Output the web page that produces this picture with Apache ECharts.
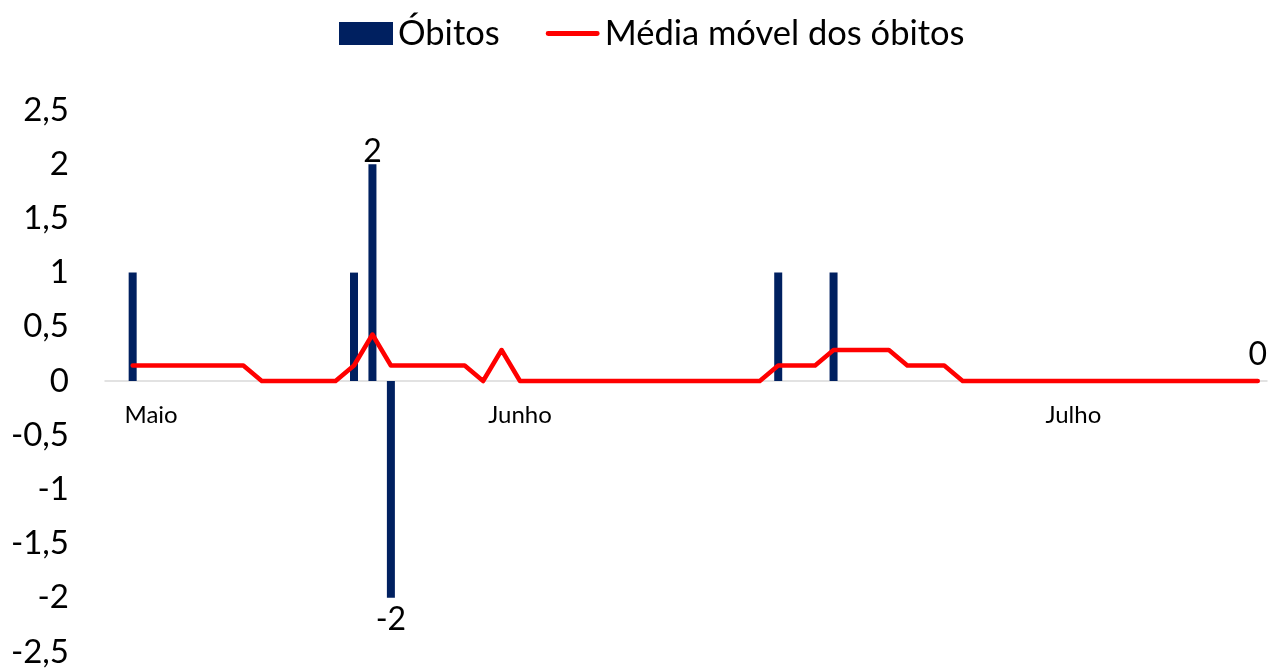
<!DOCTYPE html>
<html>
<head>
<meta charset="utf-8">
<script src="https://cdn.jsdelivr.net/npm/echarts@6/dist/echarts.min.js"></script>
<style>
html,body{margin:0;padding:0;background:#fff;}
#chart{width:1271px;height:668px;}
</style>
</head>
<body>
<div id="chart"></div>
<script>
const days = [
"10/05","11/05","12/05","13/05","14/05","15/05","16/05","17/05","18/05","19/05","20/05",
"21/05","22/05","23/05","24/05","25/05","26/05","27/05","28/05","29/05","30/05","31/05",
"01/06","02/06","03/06","04/06","05/06","06/06","07/06","08/06","09/06","10/06",
"11/06","12/06","13/06","14/06","15/06","16/06","17/06","18/06","19/06","20/06",
"21/06","22/06","23/06","24/06","25/06","26/06","27/06","28/06","29/06","30/06",
"01/07","02/07","03/07","04/07","05/07","06/07","07/07","08/07","09/07","10/07","11/07"
];
const monthLabels = {"12/05":"Maio","01/06":"Junho","01/07":"Julho"};

const obitos = [
null,
1,
0,0,0,0,0,0,0,0,0,0,0,
1,2,-2,
0,0,0,0,0,0,0,0,0,0,0,0,0,0,0,0,0,0,0,0,
1,0,0,1,
0,0,0,0,0,0,0,0,0,0,0,0,0,0,0,0,0,0,0,0,0,0,0
];
const mediaMovel = [
null,
0.143,0.143,0.143,0.143,0.143,0.143,0.143,
0,0,0,0,0,
0.143,0.429,
0.143,0.143,0.143,0.143,0.143,
0,0.286,
0,0,0,0,0,0,0,0,0,0,0,0,0,0,
0.143,0.143,0.143,
0.286,0.286,0.286,0.286,
0.143,0.143,0.143,
0,0,0,0,0,0,0,0,0,0,0,0,0,0,0,0,0
];
const labelledBars = ["24/05","25/05"];
const labelledLine = ["11/07"];

const FONT = 'Lato';
const fmt = v => String(v).replace('.', ',');

const barData = obitos.map((v,i) => labelledBars.includes(days[i])
  ? {value:v, label:{show:true, position: v < 0 ? 'bottom' : 'top', distance: v < 0 ? 6 : -3}}
  : v);
const lineData = mediaMovel.map((v,i) => labelledLine.includes(days[i])
  ? {value:v, symbol:'circle', symbolSize:0.01,
     label:{show:true, position:'top', distance:10}}
  : v);

const gridTop = 110, gridBottom = 16, H = 668;
const zeroOffset = -((H - gridTop - gridBottom) / 2);

const chart = echarts.init(document.getElementById('chart'), null, {renderer:'canvas'});
chart.setOption({
  animation:false,
  backgroundColor:'#ffffff',
  textStyle:{fontFamily:FONT},
  legend:{
    top:11, left:334,
    itemWidth:54, itemHeight:23, itemGap:46,
    textStyle:{fontFamily:FONT, fontSize:34.5, color:'#000'},
    data:[
      {name:'Óbitos', icon:'rect', itemStyle:{color:'#002060'}},
      {name:'Média móvel dos óbitos', icon:'path://M2,0 L52,0 A2.5,2.5 0 0 1 52,5 L2,5 A2.5,2.5 0 0 1 2,0 Z', itemStyle:{color:'#FF0000', borderWidth:0}}
    ]
  },
  grid:{left:105, right:4, top:gridTop, bottom:gridBottom, containLabel:false, outerBoundsMode:'none'},
  xAxis:{
    type:'category',
    data:days,
    position:'bottom',
    offset: zeroOffset,
    boundaryGap:true,
    axisLine:{show:true, onZero:false, lineStyle:{color:'#D9D9D9', width:1.5}},
    axisTick:{show:false},
    splitLine:{show:false},
    axisLabel:{
      show:true,
      interval: (i, v) => !!monthLabels[v],
      hideOverlap:false,
      margin:22, fontFamily:FONT, fontSize:24, color:'#000',
      formatter: v => monthLabels[v] || ''
    }
  },
  yAxis:{
    type:'value', min:-2.5, max:2.5, interval:0.5,
    axisLine:{show:false}, axisTick:{show:false}, splitLine:{show:false},
    axisLabel:{fontFamily:FONT, fontSize:33, color:'#000', margin:36, formatter: fmt}
  },
  series:[
    {
      name:'Óbitos', type:'bar', data:barData, barWidth:8,
      itemStyle:{color:'#002060'},
      label:{show:false, fontFamily:FONT, fontSize:32, color:'#000', formatter: p => fmt(p.value)},
      z:2
    },
    {
      name:'Média móvel dos óbitos', type:'line', data:lineData,
      symbol:'none', showSymbol:true, smooth:false,
      lineStyle:{color:'#FF0000', width:4.5, cap:'round', join:'round'},
      itemStyle:{color:'#FF0000'},
      label:{show:false, fontFamily:FONT, fontSize:32, color:'#000', formatter: p => fmt(p.value)},
      z:3
    }
  ]
});
</script>
</body>
</html>
